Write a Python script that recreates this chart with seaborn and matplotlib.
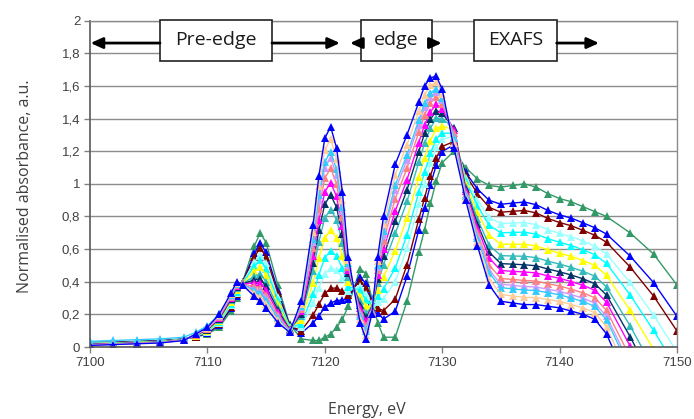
import pandas as pd
import matplotlib
matplotlib.use("Agg")
import matplotlib.pyplot as plt
import seaborn as sns
from matplotlib.patches import Rectangle

energy_ev = [7100, 7102, 7104, 7106, 7108, 7109, 7110, 7111, 7112, 7112.5, 7113, 7114, 7114.5,
             7115, 7116, 7117, 7118, 7119, 7119.5, 7120, 7120.5, 7121, 7121.5, 7122, 7123, 7123.5,
             7124, 7124.5, 7125, 7126, 7127, 7128, 7128.5, 7129, 7129.5, 7130, 7131, 7132, 7133,
             7134, 7135, 7136, 7137, 7138, 7139, 7140, 7141, 7142, 7143, 7144, 7146, 7148, 7150]

abs_green = [0.03, 0.03, 0.035, 0.04, 0.05, 0.06, 0.08, 0.12, 0.22, 0.30, 0.40, 0.62, 0.70, 0.64,
             0.38, 0.14, 0.05, 0.04, 0.04, 0.06, 0.08, 0.12, 0.17, 0.25, 0.48, 0.45, 0.30, 0.15,
             0.06, 0.06, 0.28, 0.58, 0.72, 0.88, 1.02, 1.13, 1.20, 1.10, 1.03, 0.99, 0.98, 0.99,
             1.00, 0.98, 0.94, 0.91, 0.89, 0.86, 0.83, 0.80, 0.70, 0.57, 0.38]
abs_blue_a = [0.027, 0.028, 0.033, 0.038, 0.049, 0.063, 0.086, 0.132, 0.237, 0.315, 0.397, 0.574,
              0.637, 0.58, 0.346, 0.133, 0.085, 0.147, 0.192, 0.243, 0.27, 0.285, 0.287, 0.295,
              0.43, 0.39, 0.285, 0.21, 0.171, 0.219, 0.433, 0.718, 0.852, 0.996, 1.116, 1.198,
              1.24, 1.07, 0.969, 0.899, 0.875, 0.882, 0.889, 0.872, 0.837, 0.81, 0.79, 0.761,
              0.731, 0.692, 0.558, 0.395, 0.188]
abs_darkred = [0.026, 0.027, 0.032, 0.037, 0.048, 0.064, 0.089, 0.138, 0.244, 0.322, 0.396, 0.552,
               0.608, 0.552, 0.329, 0.129, 0.101, 0.196, 0.262, 0.328, 0.359, 0.362, 0.342, 0.316,
               0.407, 0.362, 0.278, 0.238, 0.223, 0.293, 0.504, 0.782, 0.914, 1.049, 1.161, 1.229,
               1.26, 1.056, 0.94, 0.856, 0.826, 0.832, 0.837, 0.822, 0.788, 0.763, 0.743, 0.715,
               0.685, 0.642, 0.491, 0.313, 0.098]
abs_palecyan = [0.024, 0.025, 0.030, 0.035, 0.047, 0.066, 0.093, 0.146, 0.255, 0.332, 0.394, 0.521,
                0.566, 0.512, 0.306, 0.124, 0.124, 0.267, 0.363, 0.450, 0.486, 0.472, 0.420, 0.346,
                0.374, 0.322, 0.268, 0.278, 0.297, 0.399, 0.606, 0.874, 1.002, 1.126, 1.225, 1.274,
                1.29, 1.036, 0.899, 0.795, 0.756, 0.760, 0.763, 0.750, 0.719, 0.696, 0.676, 0.649,
                0.619, 0.570, 0.396, 0.196, -0.030]
abs_cyan = [0.022, 0.024, 0.029, 0.034, 0.046, 0.068, 0.096, 0.152, 0.264, 0.340, 0.392, 0.496,
            0.532, 0.48, 0.288, 0.12, 0.142, 0.324, 0.444, 0.548, 0.588, 0.56, 0.482, 0.37, 0.348,
            0.29, 0.26, 0.31, 0.356, 0.484, 0.688, 0.948, 1.072, 1.188, 1.276, 1.31, 1.31, 1.02,
            0.866, 0.746, 0.70, 0.702, 0.704, 0.692, 0.664, 0.642, 0.622, 0.596, 0.566, 0.512,
            0.32, 0.102, -0.132]
abs_yellow = [0.02, 0.023, 0.028, 0.033, 0.045, 0.07, 0.10, 0.16, 0.275, 0.35, 0.39, 0.465, 0.49,
              0.44, 0.265, 0.115, 0.165, 0.395, 0.545, 0.67, 0.715, 0.67, 0.56, 0.40, 0.315, 0.25,
              0.25, 0.35, 0.43, 0.59, 0.79, 1.04, 1.16, 1.265, 1.34, 1.355, 1.33, 1.00, 0.825,
              0.685, 0.63, 0.63, 0.63, 0.62, 0.595, 0.575, 0.555, 0.53, 0.50, 0.44, 0.225, -0.015,
              -0.26]
abs_teal = [0.018, 0.021, 0.026, 0.031, 0.044, 0.072, 0.104, 0.168, 0.286, 0.36, 0.388, 0.434,
            0.448, 0.40, 0.242, 0.11, 0.188, 0.466, 0.646, 0.792, 0.842, 0.78, 0.638, 0.43, 0.282,
            0.21, 0.24, 0.39, 0.504, 0.696, 0.892, 1.132, 1.248, 1.342, 1.404, 1.40, 1.34, 0.98,
            0.784, 0.624, 0.56, 0.558, 0.556, 0.548, 0.526, 0.508, 0.488, 0.464, 0.434, 0.368,
            0.13, -0.132, -0.388]
abs_navy = [0.017, 0.020, 0.025, 0.030, 0.043, 0.073, 0.107, 0.174, 0.294, 0.367, 0.387, 0.412,
            0.419, 0.372, 0.226, 0.107, 0.204, 0.516, 0.717, 0.877, 0.931, 0.857, 0.693, 0.451,
            0.259, 0.182, 0.233, 0.418, 0.556, 0.770, 0.963, 1.196, 1.310, 1.396, 1.449, 1.432,
            1.34, 0.966, 0.755, 0.581, 0.511, 0.508, 0.504, 0.498, 0.478, 0.461, 0.441, 0.418,
            0.388, 0.318, 0.064, -0.214, -0.478]
abs_magenta = [0.015, 0.019, 0.024, 0.029, 0.043, 0.075, 0.109, 0.178, 0.300, 0.373, 0.385, 0.394,
               0.393, 0.348, 0.212, 0.104, 0.218, 0.558, 0.777, 0.951, 1.007, 0.923, 0.739, 0.469,
               0.239, 0.158, 0.227, 0.442, 0.600, 0.834, 1.025, 1.252, 1.362, 1.442, 1.487, 1.459,
               1.33, 0.954, 0.731, 0.545, 0.469, 0.464, 0.460, 0.454, 0.436, 0.421, 0.401, 0.378,
               0.348, 0.274, 0.007, -0.284, -0.554]
abs_salmon = [0.014, 0.018, 0.023, 0.028, 0.042, 0.076, 0.112, 0.184, 0.308, 0.38, 0.384, 0.372,
              0.364, 0.32, 0.196, 0.10, 0.234, 0.608, 0.848, 1.036, 1.096, 1.00, 0.794, 0.49, 0.216,
              0.13, 0.22, 0.47, 0.652, 0.908, 1.096, 1.316, 1.424, 1.496, 1.532, 1.49, 1.31, 0.94,
              0.702, 0.502, 0.42, 0.414, 0.408, 0.404, 0.388, 0.374, 0.354, 0.332, 0.302, 0.224,
              -0.06, -0.366, -0.644]
abs_lavender = [0.013, 0.017, 0.022, 0.027, 0.042, 0.077, 0.114, 0.188, 0.314, 0.385, 0.383, 0.357,
                0.343, 0.30, 0.185, 0.098, 0.246, 0.644, 0.899, 1.097, 1.160, 1.055, 0.833, 0.505,
                0.200, 0.11, 0.215, 0.49, 0.689, 0.961, 1.147, 1.362, 1.468, 1.535, 1.564, 1.513,
                1.29, 0.93, 0.682, 0.472, 0.385, 0.378, 0.371, 0.368, 0.354, 0.341, 0.321, 0.299,
                0.269, 0.188, -0.108, -0.425, -0.708]
abs_sky = [0.035, 0.04, 0.045, 0.05, 0.06, 0.09, 0.13, 0.20, 0.317, 0.388, 0.382, 0.347, 0.330,
           0.288, 0.178, 0.096, 0.252, 0.665, 0.929, 1.134, 1.198, 1.088, 0.856, 0.514, 0.190,
           0.098, 0.212, 0.502, 0.711, 0.993, 1.178, 1.390, 1.494, 1.558, 1.583, 1.526, 1.28,
           0.924, 0.669, 0.453, 0.364, 0.356, 0.349, 0.346, 0.333, 0.320, 0.300, 0.279, 0.249,
           0.166, -0.136, -0.460, -0.746]
abs_peach = [0.011, 0.016, 0.021, 0.026, 0.041, 0.079, 0.118, 0.195, 0.323, 0.394, 0.381, 0.329,
             0.305, 0.264, 0.164, 0.093, 0.266, 0.707, 0.989, 1.207, 1.274, 1.154, 0.903, 0.532,
             0.170, 0.074, 0.206, 0.526, 0.756, 1.056, 1.239, 1.445, 1.547, 1.604, 1.622, 1.553,
             1.25, 0.912, 0.645, 0.417, 0.322, 0.313, 0.304, 0.303, 0.291, 0.280, 0.260, 0.240,
             0.210, 0.123, -0.193, -0.530, -0.823]
abs_blue_b = [0.01, 0.015, 0.02, 0.025, 0.04, 0.08, 0.12, 0.20, 0.33, 0.40, 0.38, 0.31, 0.28, 0.24,
              0.15, 0.09, 0.28, 0.75, 1.05, 1.28, 1.35, 1.22, 0.95, 0.55, 0.15, 0.05, 0.20, 0.55,
              0.80, 1.12, 1.30, 1.50, 1.60, 1.65, 1.66, 1.58, 1.22, 0.90, 0.62, 0.38, 0.28, 0.27,
              0.26, 0.26, 0.25, 0.24, 0.22, 0.20, 0.17, 0.08, -0.25, -0.60, -0.90]

spectra = {
    "green": abs_green, "blue_a": abs_blue_a, "darkred": abs_darkred,
    "palecyan": abs_palecyan, "cyan": abs_cyan, "yellow": abs_yellow, "teal": abs_teal,
    "navy": abs_navy, "magenta": abs_magenta, "salmon": abs_salmon, "lavender": abs_lavender,
    "sky": abs_sky, "peach": abs_peach, "blue_b": abs_blue_b,
}
palette = {
    "green": "#339966", "blue_a": "#0000FF", "darkred": "#800000", "palecyan": "#99FFFF",
    "cyan": "#00FFFF", "yellow": "#FFFF00", "teal": "#33BBBB", "navy": "#003366",
    "magenta": "#FF00FF", "salmon": "#FF8080", "lavender": "#CC99FF", "sky": "#33CCFF",
    "peach": "#FFCC99", "blue_b": "#0000FF",
}

frames = []
for name, vals in spectra.items():
    frames.append(pd.DataFrame({"energy": energy_ev, "absorbance": vals, "series": name}))
df = pd.concat(frames, ignore_index=True)

sns.set_style("white")
plt.rcParams["font.family"] = ["Liberation Sans", "DejaVu Sans"]

fig = plt.figure(figsize=(6.94, 4.19), dpi=100)
ax = fig.add_axes([0.1297, 0.1718, 0.8458, 0.7788])

sns.lineplot(data=df, x="energy", y="absorbance", hue="series", hue_order=list(spectra),
             palette=palette, marker="^", markersize=6, markeredgewidth=0, linewidth=1.0,
             estimator=None, sort=False, legend=False, ax=ax)

ax.set_xlim(7100, 7150)
ax.set_ylim(0, 2)
ax.set_xticks(range(7100, 7151, 10))
yt = [i / 5 for i in range(11)]
ax.set_yticks(yt)
ax.set_yticklabels([f"{v:g}".replace(".", ",") for v in yt])
ax.yaxis.grid(True, color="#8c8c8c", linewidth=1.0)
ax.xaxis.grid(False)
ax.tick_params(axis="both", direction="out", length=4, width=1, color="#808080",
               labelsize=9.5, labelcolor="#404040", left=True, bottom=True, pad=3)
for side in ["left", "bottom"]:
    ax.spines[side].set_color("#595959")
    ax.spines[side].set_linewidth(1.2)
for side in ["top", "right"]:
    ax.spines[side].set_color("#8c8c8c")
    ax.spines[side].set_linewidth(1.0)

lab_font = dict(family=["Open Sans", "DejaVu Sans"], size=11.5, color="#404040")
ax.set_xlabel("Energy, eV", fontdict=lab_font, va="center")
ax.set_ylabel("Normalised absorbance, a.u.", fontdict=lab_font, va="center")
ax.xaxis.set_label_coords(0.471, -0.193)
ax.yaxis.set_label_coords(-0.111, 0.492)

# region boxes and arrows across the top
arrow_y = 1.863
boxes = [("Pre-edge", 7105.96, 7115.50), ("edge", 7123.08, 7129.10), ("EXAFS", 7132.71, 7139.75)]
for label, x0, x1 in boxes:
    ax.add_patch(Rectangle((x0, 1.755), x1 - x0, 0.25, facecolor="white", edgecolor="#222222",
                           linewidth=1.2, zorder=6, clip_on=False))
    ax.text((x0 + x1) / 2, 1.88, label, ha="center", va="center", zorder=7,
            family=["Open Sans", "DejaVu Sans"], fontsize=14, color="#1a1a1a")

arrows = [(7105.96, 7100.05), (7115.50, 7121.29), (7123.08, 7122.15),
          (7129.10, 7129.96), (7139.75, 7143.36)]
for start, tip in arrows:
    ax.annotate("", xy=(tip, arrow_y), xytext=(start, arrow_y), zorder=6,
                arrowprops=dict(arrowstyle="-|>,head_length=0.55,head_width=0.25",
                                mutation_scale=13, lw=2.0, color="black",
                                shrinkA=0, shrinkB=0))

fig.savefig("out.png", dpi=100, facecolor="white")
